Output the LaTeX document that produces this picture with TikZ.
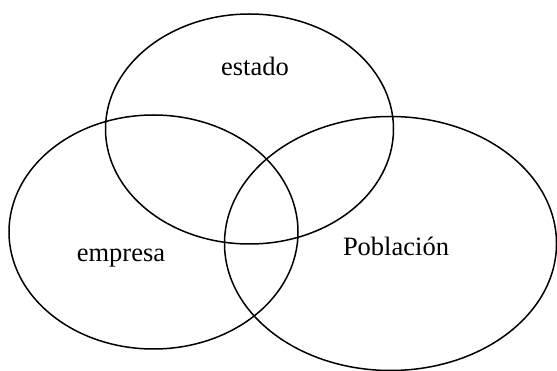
\documentclass[tikz,border=0pt]{standalone}
\usepackage{fontspec}
\setmainfont{Liberation Serif}
\begin{document}
\begin{tikzpicture}[x=1pt,y=-1pt,
  set/.style={draw=black,line width=1.5pt},
  lbl/.style={font=\fontsize{26.5}{30}\selectfont,anchor=base,inner sep=0pt}]
\useasboundingbox (0,0) rectangle (557,371);
\draw[set] (249.5,129) ellipse [x radius=144, y radius=115];
\draw[set] (153.5,232) ellipse [x radius=144.5, y radius=117];
\draw[set] (390.5,243.5) ellipse [x radius=166, y radius=127];
\node[lbl] (estado) at (255,76) {estado};
\node[lbl] (empresa) at (121,262) {empresa};
\node[lbl] (poblacion) at (396,256) {Población};
\end{tikzpicture}
\end{document}
